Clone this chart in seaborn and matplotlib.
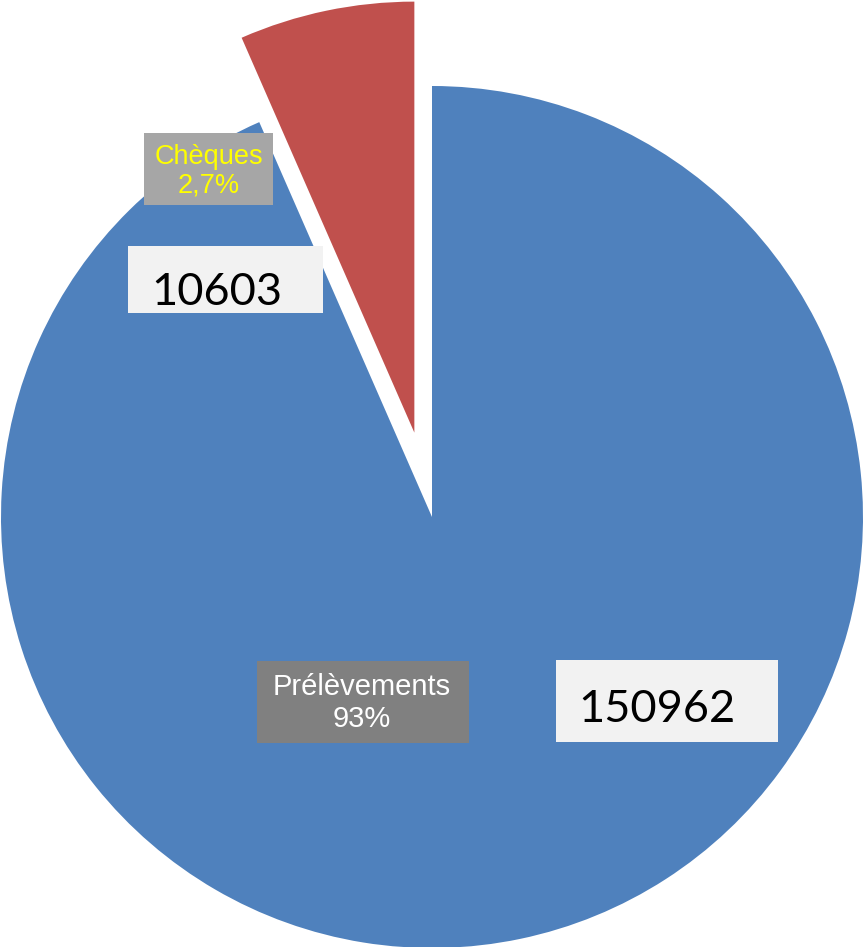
import matplotlib
matplotlib.use("Agg")
import matplotlib.pyplot as plt
import seaborn as sns
from matplotlib.patches import Rectangle

# ---- data ----
categories = ["Prélèvements", "Chèques"]
values = [150962, 10603]
pct_labels = ["93%", "2,7%"]
colors = ["#4F81BD", "#C0504D"]

sns.set_style("white")

W, H = 864, 947
fig = plt.figure(figsize=(W / 100, H / 100), dpi=100)
ax = fig.add_axes([0, 0, 1, 1])

ax.pie(values, colors=colors, startangle=90, counterclock=False,
       explode=[0, 0.2], radius=1.0, wedgeprops=dict(linewidth=0))

# pie centre at (432, 517) px, radius 431 px
scale = 431.0
ax.set_aspect("auto")
ax.set_xlim(-432 / scale, (W - 432) / scale)
ax.set_ylim(-(H - 517) / scale, 517 / scale)
ax.axis("off")


def px_box(x0, y0, x1, y1, color):
    fig.add_artist(Rectangle((x0 / W, 1 - y1 / H), (x1 - x0) / W, (y1 - y0) / H,
                             transform=fig.transFigure, facecolor=color,
                             edgecolor="none", zorder=5))


def px_text(x, y, s, **kw):
    fig.text(x / W, 1 - y / H, s, zorder=6, **kw)


# ---- category labels ----
px_box(144, 133, 273, 205, "#A6A6A6")
px_text(208.5, 171, f"{categories[1]}\n{pct_labels[1]}", ha="center", va="center",
        color="#FFFF00", fontsize=19.5, family="Liberation Sans", linespacing=1.15)

px_box(257, 661, 469, 743, "#808080")
px_text(362, 703, f"{categories[0]}\n{pct_labels[0]}", ha="center", va="center",
        color="white", fontsize=21, family="Liberation Sans", linespacing=1.2)

# ---- value labels ----
px_box(128, 246, 323, 313, "#F2F2F2")
px_text(151, 305, f"{values[1]}", ha="left", va="baseline",
        color="black", fontsize=32.5, family="Lato")

px_box(556, 660, 778, 742, "#F2F2F2")
px_text(578, 722, f"{values[0]}", ha="left", va="baseline",
        color="black", fontsize=32.5, family="Lato")

fig.savefig("out.png", dpi=100)
